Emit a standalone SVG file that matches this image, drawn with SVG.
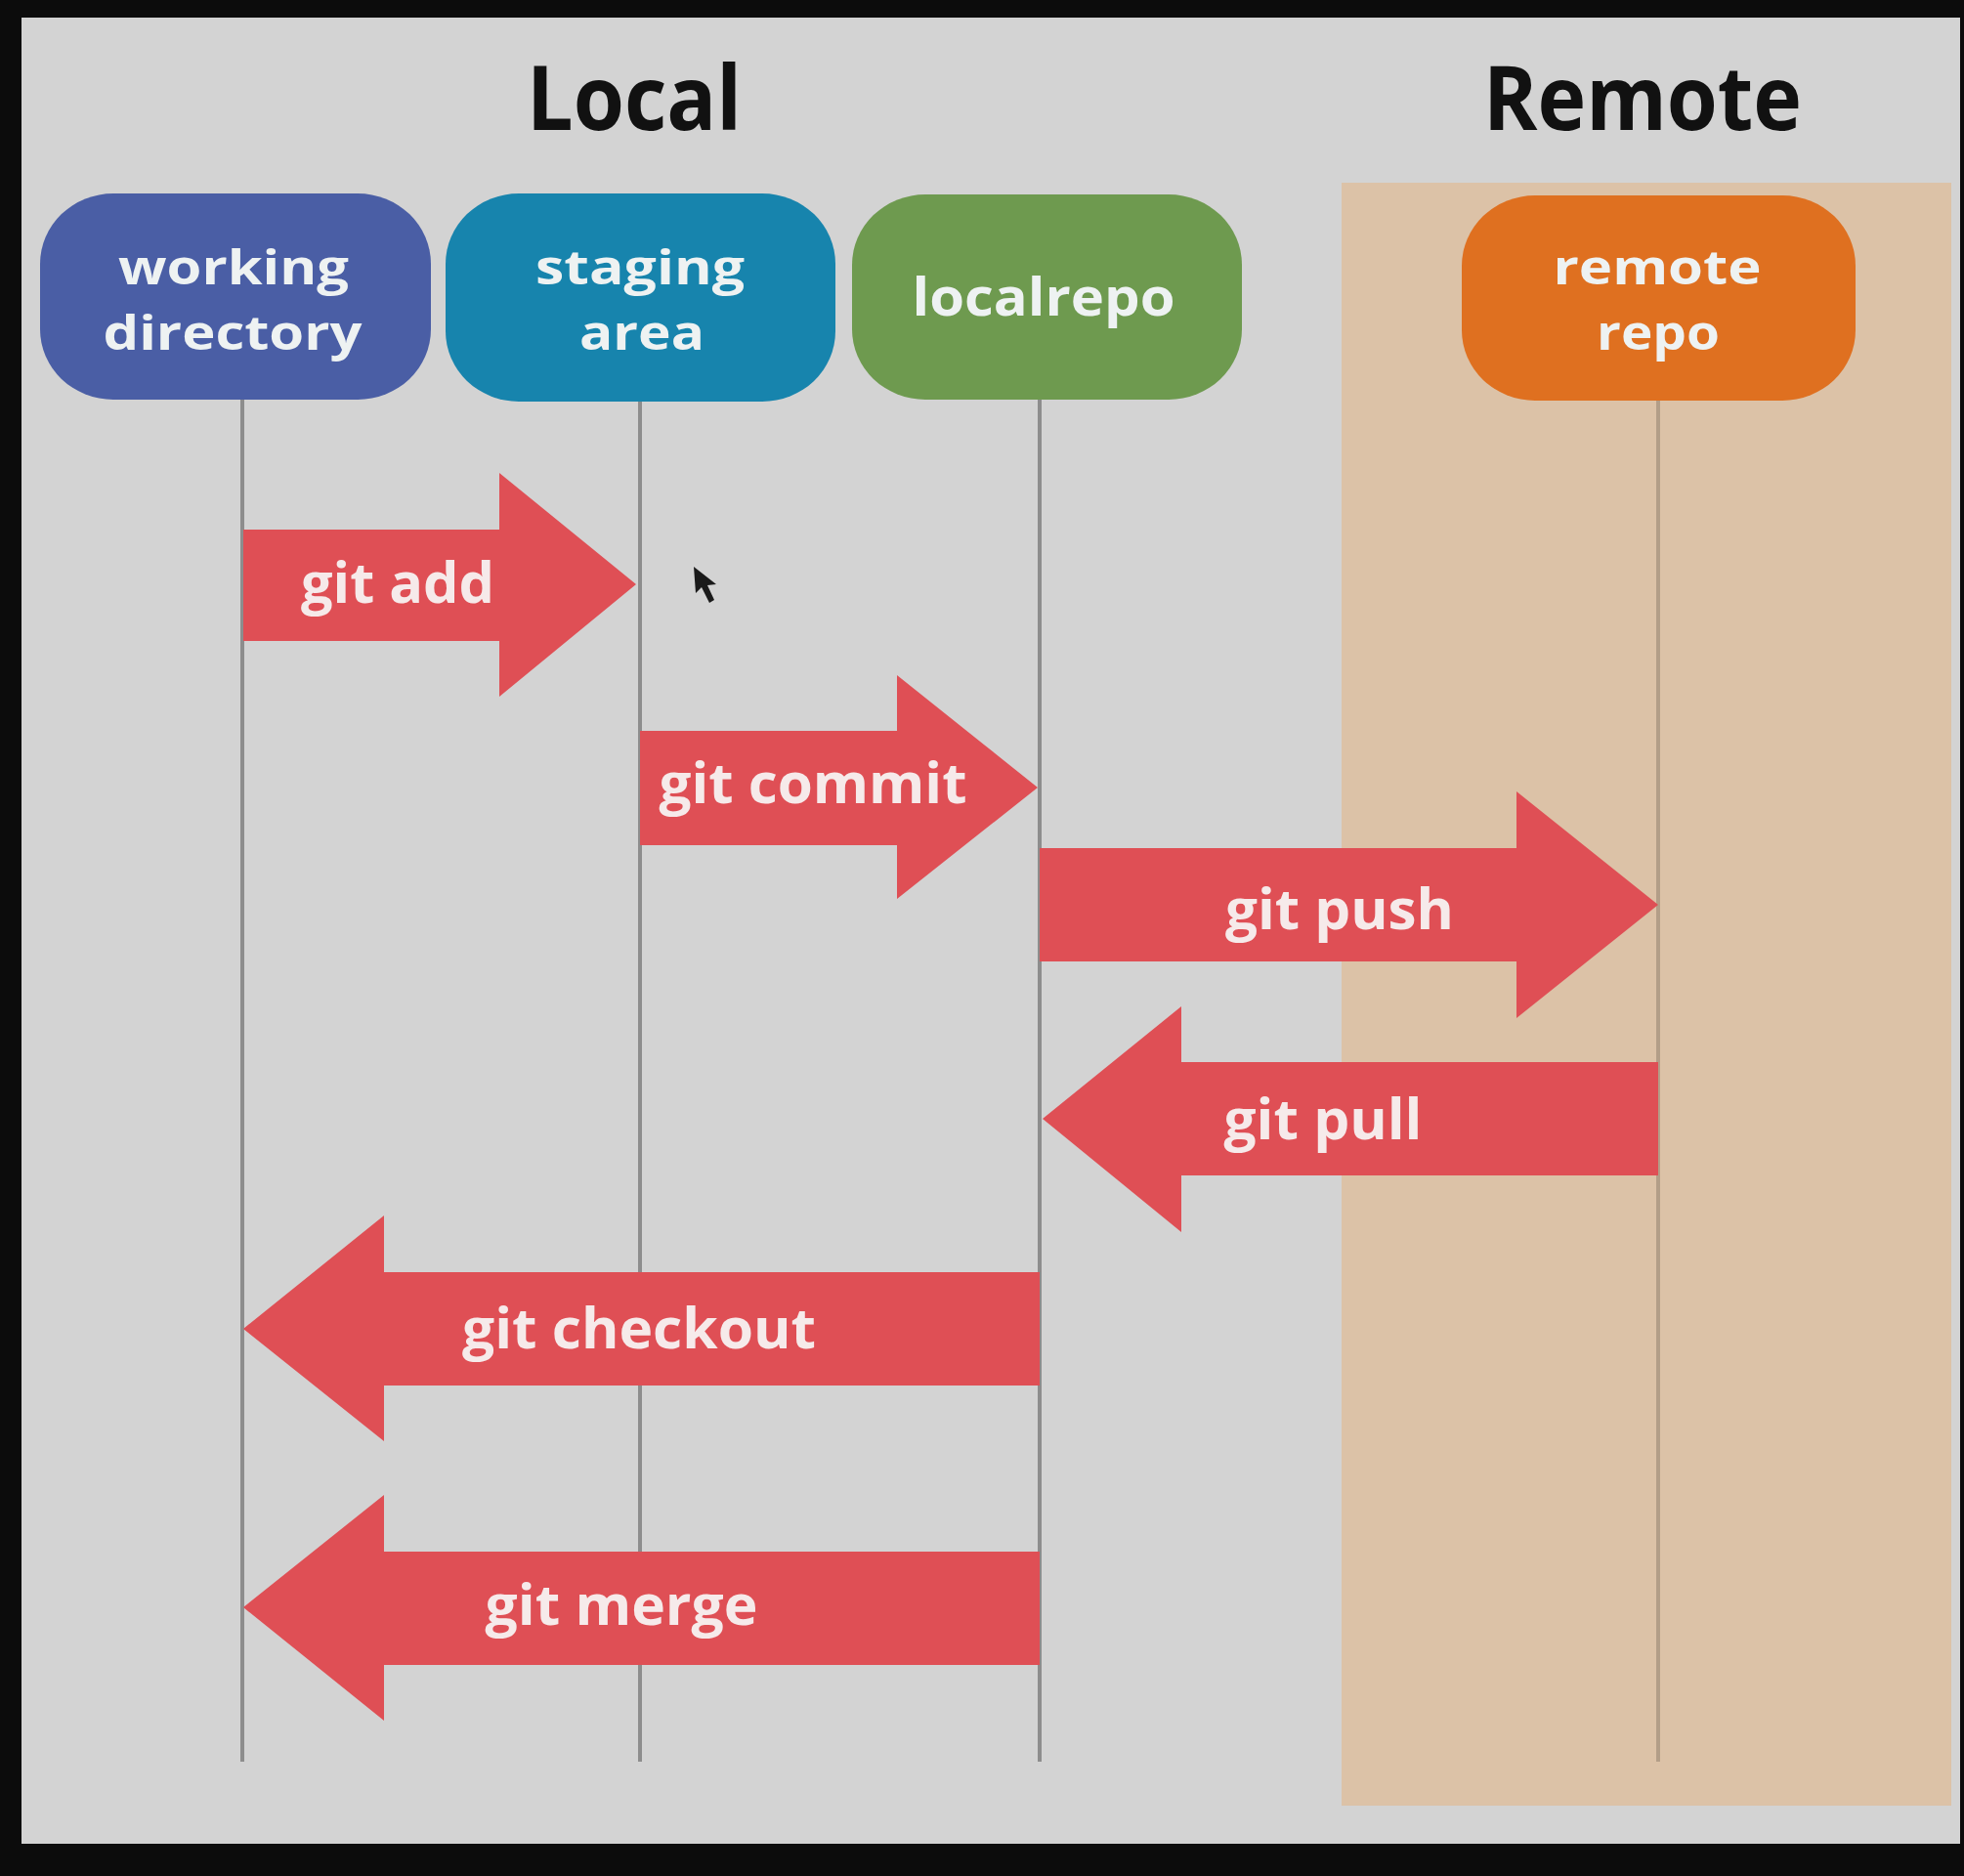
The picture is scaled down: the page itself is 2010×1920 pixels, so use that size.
<svg xmlns="http://www.w3.org/2000/svg" width="2010" height="1920" viewBox="0 0 2010 1920">
  <defs>
    <style>
      .title { font-family: "Open Sans", "Liberation Sans", sans-serif; font-weight: 700; font-size: 92px; fill: #111111; text-anchor: middle; }
      .ntext { font-family: "Open Sans", "Liberation Sans", sans-serif; font-weight: 700; font-size: 49px; fill: #eef2f2; text-anchor: middle; }
      .atext { font-family: "Open Sans", "Liberation Sans", sans-serif; font-weight: 700; font-size: 57px; fill: #f6eaea; text-anchor: middle; }
      .arrow { fill: #df4f55; }
      .life { stroke: #8d8d8d; stroke-width: 4; }
      .life-r { stroke: #b39e88; stroke-width: 4; }
    </style>
  </defs>

  <!-- frame -->
  <rect x="0" y="0" width="2010" height="1920" fill="#0c0c0c"/>
  <rect x="22" y="18" width="1984" height="1869" fill="#d3d3d3"/>
  <!-- remote area -->
  <rect x="1373" y="187" width="624" height="1661" fill="#dcc2a7"/>

  <!-- titles -->
  <text class="title" x="649" y="133" textLength="220" lengthAdjust="spacingAndGlyphs">Local</text>
  <text class="title" x="1681" y="133" textLength="326" lengthAdjust="spacingAndGlyphs">Remote</text>

  <!-- lifelines -->
  <g id="lifelines">
    <line class="life" x1="248" y1="408" x2="248" y2="1803"/>
    <line class="life" x1="655" y1="410" x2="655" y2="1803"/>
    <line class="life" x1="1064" y1="408" x2="1064" y2="1803"/>
    <line class="life-r" x1="1697" y1="408" x2="1697" y2="1803"/>
  </g>

  <!-- nodes -->
  <g id="working-directory">
    <rect x="41" y="198" width="400" height="211" rx="75" ry="72" fill="#4a5ea5"/>
    <text class="ntext" x="239" y="291" textLength="236" lengthAdjust="spacingAndGlyphs">working</text>
    <text class="ntext" x="238" y="358" textLength="265" lengthAdjust="spacingAndGlyphs">directory</text>
  </g>
  <g id="staging-area">
    <rect x="456" y="198" width="399" height="213" rx="75" ry="72" fill="#1784ad"/>
    <text class="ntext" x="655" y="291" textLength="214" lengthAdjust="spacingAndGlyphs" fill="#d8f2f8">staging</text>
    <text class="ntext" x="657" y="358" textLength="128" lengthAdjust="spacingAndGlyphs">area</text>
  </g>
  <g id="localrepo">
    <rect x="872" y="199" width="399" height="210" rx="75" ry="72" fill="#6e9a4f"/>
    <text class="ntext" x="1068" y="323" textLength="269" lengthAdjust="spacingAndGlyphs" style="font-size:54px">localrepo</text>
  </g>
  <g id="remote-repo">
    <rect x="1496" y="200" width="403" height="210" rx="75" ry="72" fill="#df7020"/>
    <text class="ntext" x="1696" y="291" textLength="213" lengthAdjust="spacingAndGlyphs">remote</text>
    <text class="ntext" x="1697" y="358" textLength="126" lengthAdjust="spacingAndGlyphs">repo</text>
  </g>

  <!-- connectors -->
  <g id="connectors">
    <g id="git-add">
      <path class="arrow" d="M249,542 H511 V484 L651,598 L511,713 V656 H249 Z"/>
      <text class="atext" x="407" y="617" textLength="198" lengthAdjust="spacingAndGlyphs">git add</text>
    </g>
    <g id="git-commit">
      <path class="arrow" d="M655,748 H918 V691 L1062,806 L918,920 V865 H655 Z"/>
      <text class="atext" x="832" y="822" textLength="315" lengthAdjust="spacingAndGlyphs">git commit</text>
    </g>
    <g id="git-push">
      <path class="arrow" d="M1064,868 H1552 V810 L1697,926 L1552,1042 V984 H1064 Z"/>
      <text class="atext" x="1371" y="951" textLength="234" lengthAdjust="spacingAndGlyphs">git push</text>
    </g>
    <g id="git-pull">
      <path class="arrow" d="M1697,1087 H1209 V1030 L1067,1145 L1209,1261 V1203 H1697 Z"/>
      <text class="atext" x="1354" y="1166" textLength="203" lengthAdjust="spacingAndGlyphs">git pull</text>
    </g>
    <g id="git-checkout">
      <path class="arrow" d="M1064,1302 H393 V1244 L249,1360 L393,1475 V1418 H1064 Z"/>
      <text class="atext" x="654" y="1380" textLength="362" lengthAdjust="spacingAndGlyphs">git checkout</text>
    </g>
    <g id="git-merge">
      <path class="arrow" d="M1064,1588 H393 V1530 L249,1645 L393,1761 V1704 H1064 Z"/>
      <text class="atext" x="636" y="1663" textLength="279" lengthAdjust="spacingAndGlyphs">git merge</text>
    </g>
  </g>

  <!-- mouse pointer -->
  <path d="M710,580 L712,607 L718,601 L726,617 L731,614 L724,599 L733,598 Z" fill="#1a1a1a"/>
</svg>
